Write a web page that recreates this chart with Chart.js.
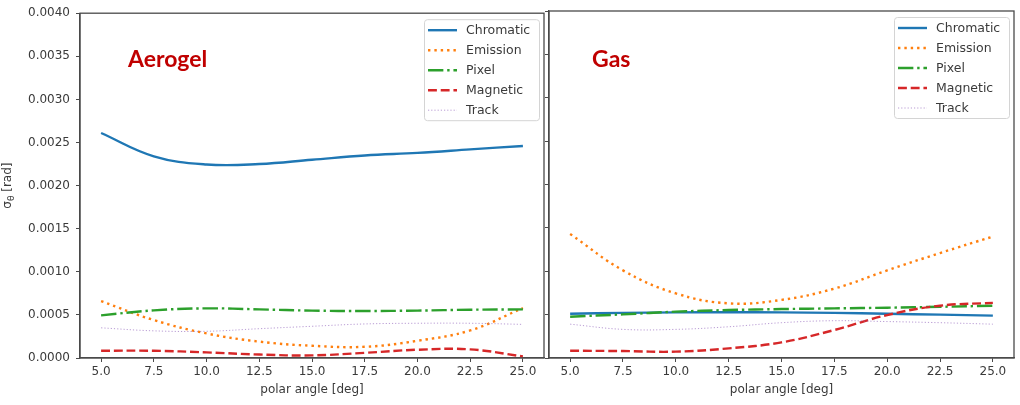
<!DOCTYPE html>
<html><head><meta charset="utf-8">
<script src="https://cdn.jsdelivr.net/npm/chart.js@4/dist/chart.umd.min.js"></script>
<style>
html,body{margin:0;padding:0;background:#fff;width:1020px;height:405px;overflow:hidden}
#c1{position:absolute;left:0;top:0}
#c2{position:absolute;left:544px;top:0}
</style></head><body>
<canvas id="c1" width="548" height="405"></canvas>
<canvas id="c2" width="476" height="405"></canvas>
<script>
// ---- data ----
const angles = [5, 7.5, 10, 12.5, 15, 17.5, 20, 22.5, 25];
const xTickValues = [5, 7.5, 10, 12.5, 15, 17.5, 20, 22.5, 25];
const yTickValues = [0, 0.0005, 0.001, 0.0015, 0.002, 0.0025, 0.003, 0.0035, 0.004];
const seriesNames = ['Chromatic', 'Emission', 'Pixel', 'Magnetic', 'Track'];
const panelNames = ['Aerogel', 'Gas'];
const yTitleParts = ['σ', 'θ', ' [rad]'];
const xTitle = 'polar angle [deg]';

const aerogelChromatic = [0.00261, 0.00234, 0.002245, 0.00225, 0.00230, 0.00235, 0.00238, 0.00242, 0.00246];
const aerogelEmission  = [0.00066, 0.00044, 0.000285, 0.00019, 0.000142, 0.00013, 0.00020, 0.00032, 0.00058];
const aerogelPixel     = [0.000495, 0.000553, 0.000576, 0.000564, 0.00055, 0.000545, 0.00055, 0.00056, 0.000564];
const aerogelMagnetic  = [0.000084, 0.000084, 0.000065, 0.00004, 0.00003, 0.00006, 0.000096, 0.0001, 0.000018];
const aerogelTrack     = [0.00035, 0.000315, 0.00031, 0.00034, 0.000368, 0.000395, 0.000403, 0.000403, 0.00039];

const gasChromatic = [0.00051, 0.00052, 0.000526, 0.000528, 0.000526, 0.00052, 0.00051, 0.0005, 0.000488];
const gasEmission  = [0.00143, 0.00101, 0.000745, 0.00063, 0.00067, 0.0008, 0.00101, 0.00121, 0.0014];
const gasPixel     = [0.000476, 0.000503, 0.000534, 0.000553, 0.000564, 0.000572, 0.00058, 0.00059, 0.000603];
const gasMagnetic  = [0.000084, 0.00008, 0.000073, 0.000111, 0.00018, 0.000323, 0.000495, 0.000603, 0.000635];
const gasTrack     = [0.00039, 0.00033, 0.00033, 0.00036, 0.000407, 0.00043, 0.00042, 0.000407, 0.00039];

// ---- styles ----
const LW = 2.4;
const seriesStyles = [
  {color: '#1f77b4', width: LW, dash: []},
  {color: '#ff7f0e', width: LW, dash: [LW * 1, LW * 1.65]},
  {color: '#2ca02c', width: LW, dash: [LW * 6.4, LW * 1.6, LW * 1, LW * 1.6]},
  {color: '#d62728', width: LW, dash: [LW * 3.7, LW * 1.6]},
  {color: 'rgba(148,103,189,0.65)', width: 1, dash: [1.2, 2]}
];
const TEXT = '#3a3a3a';
const FRAME = '#4a4a4a';
const FONT = 'DejaVu Sans';

function makeDatasets(values) {
  return values.map((vals, i) => ({
    label: seriesNames[i],
    data: angles.map((a, k) => ({x: a, y: vals[k]})),
    borderColor: seriesStyles[i].color,
    borderWidth: seriesStyles[i].width,
    borderDash: seriesStyles[i].dash,
    borderCapStyle: 'butt',
    pointRadius: 0,
    fill: false,
    tension: 0.4,
    order: 4 - i
  }));
}

const framePlugin = {
  id: 'frame',
  afterDatasetsDraw(chart) {
    const a = chart.chartArea, ctx = chart.ctx;
    ctx.save();
    ctx.strokeStyle = FRAME; ctx.lineWidth = 1.3;
    ctx.strokeRect(a.left, a.top, a.right - a.left, a.bottom - a.top);
    ctx.restore();
  }
};

const boxLegendPlugin = {
  id: 'boxLegend',
  afterDraw(chart) {
    const a = chart.chartArea, ctx = chart.ctx;
    const w = 115, h = 101;
    const left = a.right - 5 - w, top = a.top + 6;
    ctx.save();
    ctx.fillStyle = 'rgba(255,255,255,0.85)';
    ctx.strokeStyle = '#d4d4d4';
    ctx.lineWidth = 1;
    ctx.beginPath();
    if (ctx.roundRect) ctx.roundRect(left + 0.5, top + 0.5, w, h, 3); else ctx.rect(left + 0.5, top + 0.5, w, h);
    ctx.fill(); ctx.stroke();
    chart.data.datasets.forEach((ds, i) => {
      const y = top + 11 + i * 20;
      ctx.beginPath();
      ctx.strokeStyle = ds.borderColor;
      ctx.lineWidth = ds.borderWidth;
      ctx.setLineDash(ds.borderDash || []);
      ctx.lineCap = 'butt';
      ctx.moveTo(left + 4, y); ctx.lineTo(left + 33, y);
      ctx.stroke();
      ctx.setLineDash([]);
      ctx.fillStyle = TEXT;
      ctx.font = '12.5px "' + FONT + '"';
      ctx.textBaseline = 'middle';
      ctx.textAlign = 'left';
      ctx.fillText(ds.label, left + 42, y + 1);
    });
    ctx.restore();
  }
};

const panelLabelPlugin = {
  id: 'panelLabel',
  afterDraw(chart, args, opts) {
    const a = chart.chartArea, ctx = chart.ctx;
    ctx.save();
    ctx.fillStyle = '#c00000';
    ctx.font = 'bold 23px Lato';
    ctx.textBaseline = 'alphabetic';
    ctx.textAlign = 'left';
    ctx.fillText(opts.text, a.left + opts.dx, 67);
    ctx.restore();
  }
};

// y-axis title with a subscript theta
const yTitlePlugin = {
  id: 'yTitle',
  afterDraw(chart, args, opts) {
    if (!opts.show) return;
    const a = chart.chartArea, ctx = chart.ctx;
    const big = '12px "' + FONT + '"', small = '9px "' + FONT + '"';
    ctx.save();
    ctx.font = big; const w0 = ctx.measureText(yTitleParts[0]).width;
    ctx.font = small; const w1 = ctx.measureText(yTitleParts[1]).width;
    ctx.font = big; const w2 = ctx.measureText(yTitleParts[2]).width;
    const total = w0 + w1 + w2;
    ctx.translate(11, (a.top + a.bottom) / 2);
    ctx.rotate(-Math.PI / 2);
    ctx.fillStyle = TEXT;
    ctx.textBaseline = 'alphabetic';
    ctx.textAlign = 'left';
    let x = -total / 2;
    ctx.font = big; ctx.fillText(yTitleParts[0], x, 0); x += w0;
    ctx.font = small; ctx.fillText(yTitleParts[1], x, 3); x += w1;
    ctx.font = big; ctx.fillText(yTitleParts[2], x, 0);
    ctx.restore();
  }
};

function makeChart(canvasId, values, showY, label, dx, padRight) {
  return new Chart(document.getElementById(canvasId), {
    type: 'line',
    data: {datasets: makeDatasets(values)},
    options: {
      responsive: false,
      animation: false,
      devicePixelRatio: 1,
      layout: {padding: {left: 0, top: 11, right: padRight, bottom: 0}},
      plugins: {
        legend: {display: false},
        tooltip: {enabled: false},
        panelLabel: {text: label, dx: dx},
        yTitle: {show: showY}
      },
      scales: {
        x: {
          type: 'linear',
          min: 4, max: 26,
          afterBuildTicks: s => { s.ticks = xTickValues.map(v => ({value: v})); },
          afterFit: s => { s.height = 47; },
          grid: {drawOnChartArea: false, drawTicks: true, tickLength: 4, color: FRAME},
          border: {display: true, color: FRAME, width: 1.3},
          ticks: {color: TEXT, font: {family: FONT, size: 12}, padding: 3, maxRotation: 0,
                  callback: v => Number(v).toFixed(1)},
          title: {display: true, text: xTitle, color: TEXT,
                  font: {family: FONT, size: 12}, padding: {top: 0, bottom: 8}}
        },
        y: {
          type: 'linear',
          min: 0, max: 0.004,
          afterBuildTicks: s => { s.ticks = yTickValues.map(v => ({value: v})); },
          afterFit: s => { s.width = showY ? 80 : 5; },
          grid: {drawOnChartArea: false, drawTicks: true, tickLength: 4, color: FRAME},
          border: {display: true, color: FRAME, width: 1.3},
          ticks: {display: showY, color: TEXT, font: {family: FONT, size: 12}, padding: 6,
                  callback: v => Number(v).toFixed(4)},
          title: {display: false}
        }
      }
    },
    plugins: [framePlugin, boxLegendPlugin, panelLabelPlugin, yTitlePlugin]
  });
}

makeChart('c1', [aerogelChromatic, aerogelEmission, aerogelPixel, aerogelMagnetic, aerogelTrack], true, panelNames[0], 48, 4);
makeChart('c2', [gasChromatic, gasEmission, gasPixel, gasMagnetic, gasTrack], false, panelNames[1], 43, 6);
</script>
</body></html>
